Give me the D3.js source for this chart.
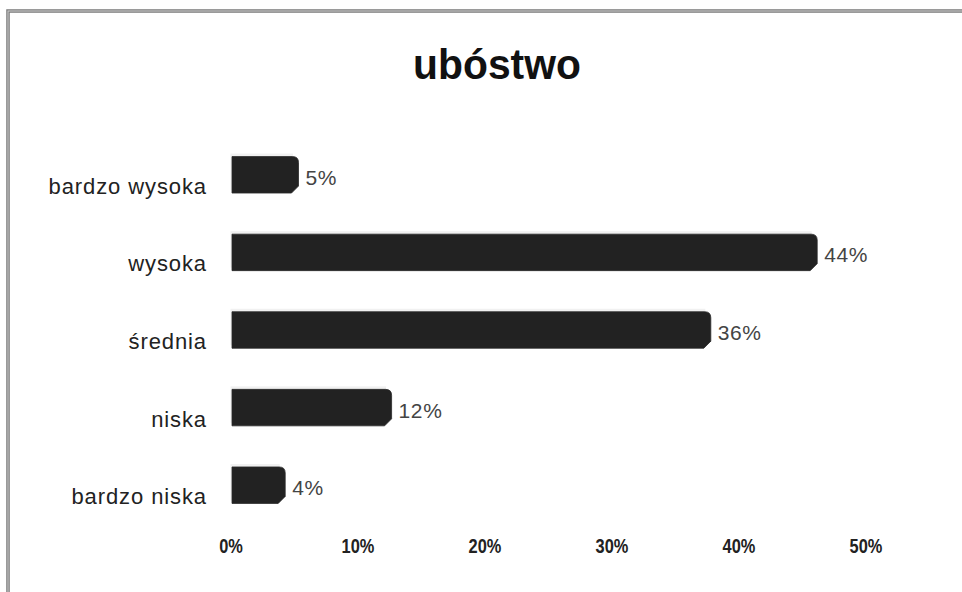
<html><head>
<meta charset="utf-8">
<title>ubóstwo</title>
<style>
  body, html {
    margin: 0;
    padding: 0;
    background-color: #fff;
    overflow: hidden;
  }
  svg { display: block; }
  .title {
    font-family: 'Liberation Sans', Arial, sans-serif;
    font-weight: bold;
    font-size: 43px;
    fill: #111;
  }
  .cat {
    font-family: 'Liberation Sans', Arial, sans-serif;
    font-size: 22px;
    letter-spacing: 0.9px;
    fill: #222;
  }
  .val {
    font-family: 'Liberation Sans', Arial, sans-serif;
    font-size: 21px;
    letter-spacing: 0.6px;
    fill: #444;
  }
  .tick-label {
    font-family: 'Liberation Sans Narrow', 'Arial Narrow', 'Liberation Sans', Arial, sans-serif;
    font-weight: bold;
    font-size: 20px;
    fill: #222;
  }
</style>
<script src="https://d3js.org/d3.v7.min.js"></script>
</head>
<body>
<div id="chart"></div>
<script>
const categories = ["bardzo wysoka", "wysoka", "średnia", "niska", "bardzo niska"];
const values = [5, 44, 36, 12, 4];
const valueLabels = ["5%", "44%", "36%", "12%", "4%"];
const ticks = [0, 10, 20, 30, 40, 50];
const tickLabels = ["0%", "10%", "20%", "30%", "40%", "50%"];

const width = 962;
const height = 592;

const svg = d3.select("#chart")
  .append("svg")
  .attr("width", width)
  .attr("height", height);

// outer frame (runs off the right and bottom of the picture)
svg.append("rect")
  .attr("x", 8).attr("y", 11)
  .attr("width", 1000).attr("height", 700)
  .attr("fill", "none")
  .attr("stroke", "#7a7a7a")
  .attr("stroke-width", 3.5);
svg.append("rect")
  .attr("x", 8).attr("y", 11)
  .attr("width", 1000).attr("height", 700)
  .attr("fill", "none")
  .attr("stroke", "#cfcfcf")
  .attr("stroke-width", 1);

svg.append("text")
  .attr("class", "title")
  .attr("x", 497)
  .attr("y", 79)
  .attr("text-anchor", "middle")
  .attr("transform", "translate(497,0) scale(0.95,1) translate(-497,0)")
  .text("ubóstwo");

// bars
const x = d3.scaleLinear().domain([0, 50]).range([232, 897]);
// tick labels sit on the foreshortened 3d floor, so they get their own scale
const xAxis = d3.scaleLinear().domain([0, 50]).range([231, 866]);

const y = d3.scaleBand()
  .domain(categories)
  .range([136, 524])
  .paddingInner(0.53)
  .paddingOuter(0.265);

const data = categories.map((c, i) => ({ cat: c, value: values[i], label: valueLabels[i] }));

function barPath(d) {
  const x0 = x(0), x1 = x(d.value);
  const y0 = y(d.cat), y1 = y0 + y.bandwidth();
  const r = 6, c = 7;
  return `M${x0},${y0} L${x1 - r},${y0} Q${x1},${y0} ${x1},${y0 + r} ` +
    `L${x1},${y1 - c} L${x1 - c},${y1} L${x0},${y1} Z`;
}

const g = svg.append("g");

// faint 3d depth behind each bar
g.selectAll("rect.depth")
  .data(data)
  .enter()
  .append("rect")
  .attr("class", "depth")
  .attr("x", x(0) - 1.5)
  .attr("y", d => y(d.cat) - 3)
  .attr("width", d => x(d.value) - x(0) - 4)
  .attr("height", y.bandwidth())
  .attr("fill", "#f1f1f1");

g.selectAll("path.bar")
  .data(data)
  .enter()
  .append("path")
  .attr("class", "bar")
  .attr("d", barPath)
  .attr("fill", "#222")
  .attr("stroke", "#2a2a2a")
  .attr("stroke-width", 0.8);

g.selectAll("text.val")
  .data(data)
  .enter()
  .append("text")
  .attr("class", "val")
  .attr("x", d => x(d.value) + 7)
  .attr("y", d => y(d.cat) + y.bandwidth() / 2 + 10)
  .text(d => d.label);

g.selectAll("text.cat")
  .data(data)
  .enter()
  .append("text")
  .attr("class", "cat")
  .attr("x", 207)
  .attr("y", d => y(d.cat) + y.bandwidth() / 2 + 19)
  .attr("text-anchor", "end")
  .text(d => d.cat);

svg.append("g")
  .selectAll("text")
  .data(ticks)
  .enter()
  .append("text")
  .attr("class", "tick-label")
  .attr("text-anchor", "middle")
  .attr("transform", d => `translate(${xAxis(d)},553) scale(0.82,1)`)
  .text((d, i) => tickLabels[i]);
</script>
</body></html>
